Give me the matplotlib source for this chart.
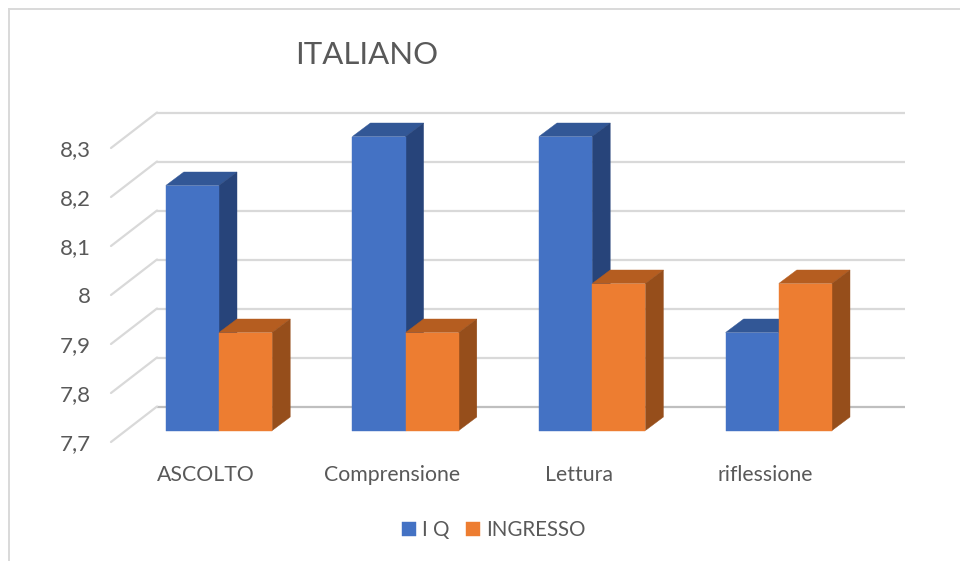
import matplotlib
matplotlib.use("Agg")
import matplotlib.pyplot as plt
from matplotlib.lines import Line2D
from matplotlib.patches import Polygon
from matplotlib.transforms import ScaledTranslation

plt.rcParams['font.family'] = ['Lato', 'DejaVu Sans']

categories = ["ASCOLTO", "Comprensione", "Lettura", "riflessione"]
iq_values = [8.2, 8.3, 8.3, 7.9]
ingresso_values = [7.9, 7.9, 8.0, 8.0]
y_ticks = [7.7, 7.8, 7.9, 8.0, 8.1, 8.2, 8.3]
y_tick_labels = ["7,7", "7,8", "7,9", "8", "8,1", "8,2", "8,3"]
title = "ITALIANO"
series_names = ["I Q", "INGRESSO"]

W, H = 960, 561
TEXT = "#595959"
GRID = "#d9d9d9"

fig = plt.figure(figsize=(W / 100, H / 100), dpi=100, facecolor="white")

# Front plane of the bars, in pixels
left_px, right_px, base_px, top_px = 127, 875, 430.5, 136.5
ax = fig.add_axes([left_px / W, 1 - base_px / H, (right_px - left_px) / W, (base_px - top_px) / H])
ax.patch.set_visible(False)
group_px = 186.6
first_px = 219
ax.set_xlim((left_px - first_px) / group_px, (right_px - first_px) / group_px)
ax.set_ylim(7.7, 8.3)
for s in ax.spines.values():
    s.set_visible(False)

px_x = 1 / group_px
px_y = 0.6 / (base_px - top_px)
bar_w = 53.2 * px_x


def shifted(px, py):
    return ax.transData + ScaledTranslation(px / 100, py / 100, fig.dpi_scale_trans)


# Wall grid: diagonal on the side wall plus the line along the back
xmin, xmax = ax.get_xlim()
wall_dx, wall_dy = 30, 24
front_dx, front_dy = -16, -11.5
for i, v in enumerate(y_ticks):
    col = "#bfbfbf" if i == 0 else GRID
    ax.plot([xmin, xmax], [v, v], color=col, lw=1.6, clip_on=False, zorder=1,
            transform=shifted(wall_dx, wall_dy), solid_capstyle="butt")
    ax.plot([xmin + (front_dx) * px_x, xmin + wall_dx * px_x],
            [v + front_dy * px_y, v + wall_dy * px_y], color=GRID, lw=1.6,
            clip_on=False, zorder=1, solid_capstyle="round")

# 3D bars
depth_x, depth_y = 18 * px_x, 13.5 * px_y
series = [
    (iq_values, -1, "#4472c4", "#325796", "#27447a", 3),
    (ingresso_values, 0, "#ed7d31", "#b55d20", "#964e1b", 4),
]
handles = []
for values, off, front, topc, sidec, z in series:
    xs = [i + off * bar_w for i in range(len(categories))]
    bars = ax.bar(xs, [v - 7.7 for v in values], bottom=7.7, width=bar_w, align="edge",
                  color=front, edgecolor=front, linewidth=0.3, zorder=z + 0.5, clip_on=False)
    handles.append(bars)
    for x, v in zip(xs, values):
        ax.add_patch(Polygon([(x, v), (x + bar_w, v), (x + bar_w + depth_x, v + depth_y),
                              (x + depth_x, v + depth_y)], closed=True, facecolor=topc,
                             edgecolor=topc, linewidth=0.3, zorder=z, clip_on=False))
        ax.add_patch(Polygon([(x + bar_w, 7.7), (x + bar_w + depth_x, 7.7 + depth_y),
                              (x + bar_w + depth_x, v + depth_y), (x + bar_w, v)], closed=True,
                             facecolor=sidec, edgecolor=sidec, linewidth=0.3, zorder=z, clip_on=False))

# Tick labels
ax.set_yticks(y_ticks)
ax.set_yticklabels(y_tick_labels, fontsize=16, color=TEXT)
ax.tick_params(axis="y", length=0, pad=26)
ytrans = ScaledTranslation(0, -11.5 / 100, fig.dpi_scale_trans)
for lab in ax.get_yticklabels():
    lab.set_transform(lab.get_transform() + ytrans)

ax.set_xticks(range(len(categories)))
ax.set_xticklabels(categories, fontsize=15.3, color=TEXT)
ax.tick_params(axis="x", length=0, pad=24.5)
xtrans = ScaledTranslation(-13.5 / 100, 0, fig.dpi_scale_trans)
for lab in ax.get_xticklabels():
    lab.set_transform(lab.get_transform() + xtrans)

# Title
ax.set_title(title, loc="left", x=(295 - left_px) / (right_px - left_px),
             y=(base_px - 64) / (base_px - top_px), pad=0, fontsize=22.4, color=TEXT)

# Legend
fig.legend(handles, series_names, ncol=2, loc="center", bbox_to_anchor=(494 / W, 1 - 530 / H),
           frameon=False, fontsize=14.8, labelcolor=TEXT, handlelength=0.68, handleheight=0.68,
           handletextpad=0.3, columnspacing=0.8)

# Chart-area border
fig.add_artist(Line2D([8.5 / W, 8.5 / W], [0, 1 - 8.5 / H], color=GRID, lw=1.4))
fig.add_artist(Line2D([8.5 / W, 1], [1 - 8.5 / H, 1 - 8.5 / H], color=GRID, lw=1.4))

fig.savefig("out.png", dpi=100, facecolor="white")
